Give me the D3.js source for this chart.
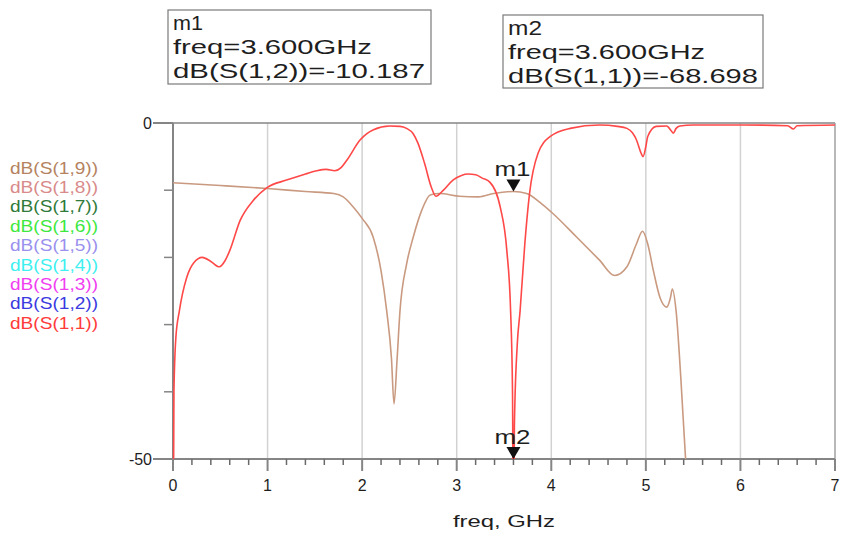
<!DOCTYPE html>
<html>
<head>
<meta charset="utf-8">
<script src="https://cdn.jsdelivr.net/npm/d3@7"></script>
<style>
  html, body { margin: 0; padding: 0; background: #fff; }
  svg { display: block; font-family: "Liberation Sans", Arial, sans-serif; }
</style>
</head>
<body>
<svg id="chart" width="842" height="534"></svg>
<script>
// ---------- data ----------
const legendLabels = ["dB(S(1,9))","dB(S(1,8))","dB(S(1,7))","dB(S(1,6))","dB(S(1,5))","dB(S(1,4))","dB(S(1,3))","dB(S(1,2))","dB(S(1,1))"];
const legendColors = ["#b5835f","#d98a8a","#2f7a3a","#3ee83e","#9a90ee","#3ef0f0","#f03ef0","#3a3ae0","#ff3a3a"];

const xTicks = [0,1,2,3,4,5,6,7];
const yTickLabels = [0,-50];
const yMinorTicks = [-10,-20,-30,-40];

// dB(S(1,1)) — red trace
const freqS11 = [0,0.01,0.03,0.067,0.145,0.22,0.31,0.40,0.49,0.55,0.60,0.71,0.85,0.99,1.20,1.40,1.52,1.62,1.71,1.78,1.84,1.98,2.12,2.29,2.40,2.47,2.54,2.59,2.66,2.73,2.78,2.86,2.96,3.05,3.12,3.20,3.27,3.35,3.46,3.53,3.57,3.59,3.60,3.61,3.64,3.67,3.72,3.77,3.86,3.99,4.20,4.51,4.70,4.80,4.86,4.90,4.95,4.97,5.00,5.02,5.11,5.22,5.27,5.29,5.32,5.36,5.50,6.03,6.50,6.56,6.60,7.00];
const dbS11  = [-70,-40,-32,-28,-23,-20.8,-20,-20.6,-21.4,-20.5,-19,-14.5,-11.5,-9.65,-8.5,-7.6,-7.1,-6.9,-7.1,-6.6,-5.5,-2.5,-1.0,-0.45,-0.5,-0.8,-1.6,-3,-6,-9.5,-10.9,-10.0,-8.5,-7.8,-7.6,-7.7,-8.2,-8.8,-12.5,-19,-28,-40,-68.698,-45,-33,-28,-18,-10.5,-4.5,-2,-0.8,-0.3,-0.5,-0.8,-1.5,-2.5,-4.5,-5,-3.5,-2,-0.5,-0.45,-1.2,-1.5,-0.8,-0.45,-0.3,-0.3,-0.4,-0.9,-0.4,-0.3];

// dB(S(1,2)) — brown trace
const freqS12 = [0,0.5,1.0,1.4,1.7,1.8,1.906,2.0,2.117,2.2,2.26,2.31,2.337,2.37,2.40,2.47,2.54,2.63,2.72,2.82,3.03,3.23,3.39,3.60,3.74,3.88,4.02,4.27,4.51,4.67,4.80,4.90,4.965,5.02,5.08,5.15,5.22,5.26,5.28,5.32,5.37,5.42,5.45];
const dbS12  = [-8.9,-9.3,-9.75,-10.2,-10.5,-11.0,-12.5,-14.2,-17,-22,-28,-35,-41.8,-35,-28,-21,-17,-13,-10.7,-10.5,-10.9,-11,-10.5,-10.187,-10.5,-11.8,-13.5,-17,-20.4,-22.7,-21.4,-18,-16.1,-18,-22,-26,-27.4,-26,-24.7,-28,-38,-50,-56];

const markerFreq = 3.6;
const m1Lines = ["m1","freq=3.600GHz","dB(S(1,2))=-10.187"];
const m2Lines = ["m2","freq=3.600GHz","dB(S(1,1))=-68.698"];
const m1Value = -10.187;
const m2Value = -68.698;

// ---------- layout ----------
const svg = d3.select("#chart");
const x = d3.scaleLinear().domain([0,7]).range([173,835]);
const y = d3.scaleLinear().domain([-50,0]).range([459,123]);

const axisColor = "#858585";
const textColor = "#1e1e1e";

// clip
svg.append("defs").append("clipPath").attr("id","plotclip")
  .append("rect").attr("x",x(0)-1).attr("y",y(0)).attr("width",x(7)-x(0)+2).attr("height",y(-50)-y(0));

// grid lines
svg.append("g").selectAll("line").data(xTicks.slice(1,-1)).join("line")
  .attr("x1",d=>x(d)).attr("x2",d=>x(d)).attr("y1",y(0)).attr("y2",y(-50))
  .attr("stroke","#d2d2d2").attr("stroke-width",1.5);

// frame (top and right)
svg.append("line").attr("x1",x(0)).attr("x2",x(7)).attr("y1",y(0)).attr("y2",y(0))
  .attr("stroke",axisColor).attr("stroke-width",1.5);
svg.append("line").attr("x1",x(7)).attr("x2",x(7)).attr("y1",y(0)).attr("y2",y(-50))
  .attr("stroke","#a0a0a0").attr("stroke-width",1.5);

// bottom axis
const xAxisG = svg.append("g");
xAxisG.append("line").attr("x1",x(0)-20).attr("x2",x(7)).attr("y1",y(-50)).attr("y2",y(-50))
  .attr("stroke",axisColor).attr("stroke-width",2);
const minorX = d3.range(0,36).map(i=>i*0.2).filter(v=>Math.abs(v-Math.round(v))>1e-6);
xAxisG.selectAll("line.minor").data(minorX).join("line").attr("class","minor")
  .attr("x1",d=>x(d)).attr("x2",d=>x(d)).attr("y1",y(-50)).attr("y2",y(-50)+6)
  .attr("stroke","#6a6a6a").attr("stroke-width",1.5);
xAxisG.selectAll("line.major").data(xTicks).join("line").attr("class","major")
  .attr("x1",d=>x(d)).attr("x2",d=>x(d)).attr("y1",y(-50)).attr("y2",y(-50)+12)
  .attr("stroke",axisColor).attr("stroke-width",2);
xAxisG.selectAll("text").data(xTicks).join("text")
  .attr("x",d=>x(d)).attr("y",y(-50)+32).attr("text-anchor","middle")
  .attr("font-size",16).attr("fill",textColor).text(d=>d);

// left axis
const yAxisG = svg.append("g");
yAxisG.append("line").attr("x1",x(0)).attr("x2",x(0)).attr("y1",y(0)).attr("y2",y(-50))
  .attr("stroke",axisColor).attr("stroke-width",2);
yAxisG.selectAll("line.minor").data(yMinorTicks).join("line").attr("class","minor")
  .attr("x1",x(0)-9).attr("x2",x(0)).attr("y1",d=>y(d)).attr("y2",d=>y(d))
  .attr("stroke",axisColor).attr("stroke-width",1.5);
yAxisG.selectAll("line.major").data(yTickLabels).join("line").attr("class","major")
  .attr("x1",x(0)-20).attr("x2",x(0)).attr("y1",d=>y(d)).attr("y2",d=>y(d))
  .attr("stroke",axisColor).attr("stroke-width",2);
yAxisG.selectAll("text").data(yTickLabels).join("text")
  .attr("x",x(0)-21).attr("y",d=>y(d)+6).attr("text-anchor","end")
  .attr("font-size",16).attr("fill",textColor).text(d=>d);

// axis title
svg.append("text").attr("x",(x(0)+x(7))/2).attr("y",527).attr("text-anchor","middle")
  .attr("font-size",17).attr("fill",textColor)
  .attr("textLength",102).attr("lengthAdjust","spacingAndGlyphs").text("freq, GHz");

// traces
const line = d3.line().x(d=>x(d[0])).y(d=>y(d[1])).curve(d3.curveMonotoneX);
const plot = svg.append("g").attr("clip-path","url(#plotclip)");
plot.append("path").datum(d3.zip(freqS12,dbS12)).attr("d",line)
  .attr("fill","none").attr("stroke","#c99a80").attr("stroke-width",1.6);
plot.append("path").datum(d3.zip(freqS11,dbS11)).attr("d",line)
  .attr("fill","none").attr("stroke","#ff4848").attr("stroke-width",1.6);

// legend
svg.append("g").selectAll("text").data(legendLabels).join("text")
  .attr("x",10).attr("y",(d,i)=>173.5+i*19.4)
  .attr("font-size",16.5).attr("fill",(d,i)=>legendColors[i])
  .attr("textLength",88).attr("lengthAdjust","spacingAndGlyphs").text(d=>d);

// marker triangles & labels
function marker(val,label){
  const px = x(markerFreq), py = y(Math.max(val,-50));
  svg.append("path").attr("d",`M${px-7},${py-12}L${px+7},${py-12}L${px},${py}Z`).attr("fill","#111");
  svg.append("text").attr("x",px-1).attr("y",py-15).attr("text-anchor","middle")
    .attr("font-size",21).attr("fill",textColor)
    .attr("textLength",36).attr("lengthAdjust","spacingAndGlyphs").text(label);
}
marker(m1Value,"m1");
marker(m2Value,"m2");

// marker readout boxes
function readout(bx,by,bw,bh,lines,widths){
  const g = svg.append("g");
  g.append("rect").attr("x",bx).attr("y",by).attr("width",bw).attr("height",bh)
    .attr("fill","#fff").attr("stroke","#7a7a7a").attr("stroke-width",1.2);
  g.selectAll("text").data(lines).join("text")
    .attr("x",bx+5).attr("y",(d,i)=>by+20+i*24)
    .attr("font-size",21).attr("fill",textColor)
    .attr("textLength",(d,i)=>widths[i]).attr("lengthAdjust","spacingAndGlyphs").text(d=>d);
}
readout(168,10,263,74,m1Lines,[30,199,252]);
readout(503,15,260,73,m2Lines,[34,197,250]);
</script>
</body>
</html>
